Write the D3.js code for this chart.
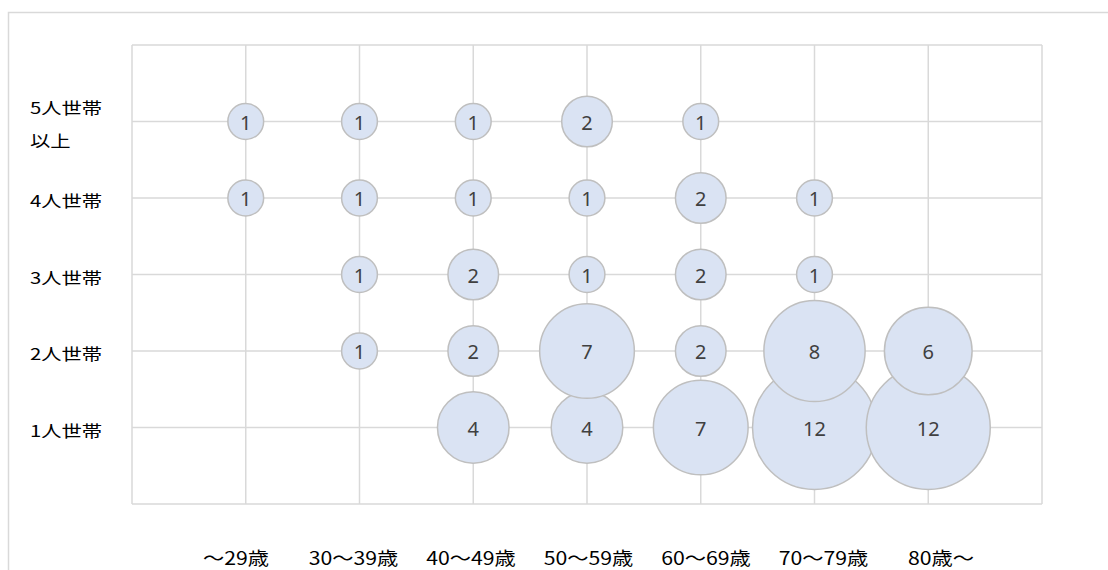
<!DOCTYPE html>
<html>
<head>
<meta charset="utf-8">
<script src="https://cdn.jsdelivr.net/npm/d3@7"></script>
<style>
html,body{margin:0;padding:0;background:#fff;}
svg{display:block;}
</style>
</head>
<body>
<svg id="chart" width="1108" height="570"></svg>
<script>
const ageGroups = ["～29歳", "30～39歳", "40～49歳", "50～59歳", "60～69歳", "70～79歳", "80歳～"];
const householdLabels = [["1人世帯"], ["2人世帯"], ["3人世帯"], ["4人世帯"], ["5人世帯", "以上"]];
const oneperson   = [null, null, 4, 4, 7, 12, 12];
const twoperson   = [null, 1, 2, 7, 2, 8, 6];
const threeperson = [null, 1, 2, 1, 2, 1, null];
const fourperson  = [1, 1, 1, 1, 2, 1, null];
const fiveplus    = [1, 1, 1, 2, 1, null, null];
const seriesRows = [oneperson, twoperson, threeperson, fourperson, fiveplus];

const svg = d3.select("#chart");
const W = 1108, H = 570;
const plot = {left: 132, right: 1042, top: 45, bottom: 504};

const x = d3.scaleLinear().domain([0, ageGroups.length + 1]).range([plot.left, plot.right]);
const y = d3.scaleLinear().domain([0, householdLabels.length + 1]).range([plot.bottom, plot.top]);
const r = d3.scaleSqrt().domain([0, 12]).range([0, 62]);
const labelX = d3.scaleLinear().domain([0, ageGroups.length - 1]).range([236, 941]);

// outer frame
svg.append("rect").attr("x", 8.5).attr("y", 12.5).attr("width", 1300).attr("height", 700)
  .attr("fill", "none").attr("stroke", "#d9d9d9").attr("stroke-width", 1.5);

// gridlines
const grid = svg.append("g");
grid.selectAll("line.v").data(d3.range(0, ageGroups.length + 2)).join("line")
  .attr("x1", d => x(d)).attr("x2", d => x(d))
  .attr("y1", plot.top).attr("y2", plot.bottom)
  .attr("stroke", "#d9d9d9").attr("stroke-width", 1.5);
grid.selectAll("line.h").data(d3.range(0, householdLabels.length + 2)).join("line")
  .attr("x1", plot.left).attr("x2", plot.right)
  .attr("y1", d => y(d)).attr("y2", d => y(d))
  .attr("stroke", "#d9d9d9").attr("stroke-width", 1.5);

// bubbles
const pts = [];
seriesRows.forEach((row, ri) => row.forEach((v, ci) => {
  if (v != null) pts.push({row: ri + 1, col: ci + 1, v});
}));
const bub = svg.append("g");
bub.selectAll("g").data(pts).join("g").each(function(d) {
  const g = d3.select(this);
  g.append("circle").attr("cx", x(d.col)).attr("cy", y(d.row)).attr("r", r(d.v))
    .attr("fill", "#dae3f3").attr("stroke", "#bfbfbf").attr("stroke-width", 1.5);
  g.append("text").attr("x", x(d.col)).attr("y", y(d.row) + 8)
    .attr("text-anchor", "middle").attr("font-family", "'Noto Sans', sans-serif")
    .attr("font-size", 20).attr("fill", "#404040").text(d.v);
});

// y labels
const ylab = svg.append("g").attr("font-family", "'Noto Sans CJK JP', sans-serif")
  .attr("font-size", 16).attr("fill", "#000");
householdLabels.forEach((lines, i) => {
  const yy = y(i + 1);
  lines.forEach((t, k) => {
    const base = lines.length > 1 ? yy - 8 + k * 33 : yy + 9;
    ylab.append("text").attr("transform", `translate(30,${base}) scale(1.27,1)`).text(t);
  });
});

// x labels
const xlab = svg.append("g").attr("font-family", "'Noto Sans CJK JP', sans-serif")
  .attr("font-size", 18).attr("fill", "#000");
ageGroups.forEach((t, i) => {
  xlab.append("text").attr("transform", `translate(${labelX(i)},565) scale(1.18,1)`)
    .attr("text-anchor", "middle").text(t);
});
</script>
</body>
</html>
